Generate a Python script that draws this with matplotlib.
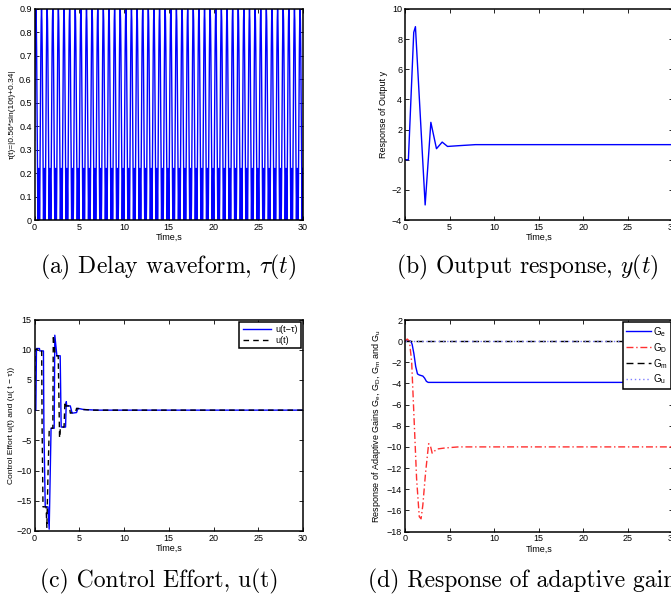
import numpy as np
import matplotlib
matplotlib.use("Agg")
import matplotlib.pyplot as plt

plt.rcParams['font.family'] = ['Liberation Sans', 'DejaVu Sans']
plt.rcParams['mathtext.fontset'] = 'custom'
plt.rcParams['mathtext.rm'] = 'Liberation Sans'
plt.rcParams['mathtext.it'] = 'Liberation Sans:italic'
plt.rcParams['xtick.direction'] = 'in'
plt.rcParams['ytick.direction'] = 'in'

# ---------------- data ----------------
# (a) delay waveform: one cycle (offset from peak [s], value)
tau_cycle_offsets = [0.0, 0.04, 0.08, 0.12, 0.16, 0.20, 0.222, 0.25, 0.28, 0.314,
                     0.35, 0.38, 0.406, 0.43, 0.47, 0.51, 0.55, 0.59]
tau_cycle_values = [0.90, 0.85, 0.72, 0.52, 0.30, 0.07, 0.0, 0.11, 0.19, 0.22,
                    0.19, 0.11, 0.0, 0.07, 0.30, 0.52, 0.72, 0.85]
tau_start_t = [0.0, 0.08]
tau_start_v = [0.34, 0.74]
tau_period = 0.628
tau_first_peak = 0.157
tau_n_cycles = 48

# (b) output response
y_t = [0, 0.38, 0.98, 1.17, 2.26, 2.90, 3.53, 4.17, 4.77, 6.0, 7.9, 30]
y_v = [0, 0.0, 8.45, 8.83, -3.0, 2.48, 0.73, 1.17, 0.88, 0.93, 1.0, 1.0]

# (c) control effort
ud_t = [0, 0.15, 0.22, 0.55, 0.60, 1.00, 1.05, 1.20, 1.50, 1.64, 1.75, 1.85, 2.20,
        2.27, 2.50, 2.87, 2.98, 3.47, 3.55, 3.60, 4.00, 4.20, 4.70, 4.85, 5.5, 7.0, 30]
ud_v = [0, 0, 10.2, 10.2, 9.8, 9.8, -3.0, -16.0, -16.0, -19.7, -11.0, -3.0, -3.0,
        12.4, 9.0, 9.0, -2.8, -2.8, 1.4, 0.7, 0.7, -0.5, -0.4, 0.3, 0.1, 0.0, 0.0]
u_t = [0, 0.05, 0.30, 0.80, 0.85, 0.95, 1.30, 1.38, 1.50, 1.65, 2.05, 2.10, 2.30,
       2.65, 2.80, 2.90, 3.30, 3.40, 3.50, 3.90, 4.00, 4.60, 4.70, 5.5, 6.5, 30]
u_v = [0, 10.0, 10.1, 10.0, -3.0, -16.0, -16.0, -19.5, -11.0, -3.0, -3.0, 12.4, 9.0,
       9.0, -4.6, -2.8, -2.8, 1.4, 0.7, 0.7, -0.5, -0.3, 0.3, 0.1, 0.0, 0.0]

# (d) adaptive gains
ge_t = [0, 0.65, 0.8, 1.0, 1.2, 1.4, 1.6, 2.0, 2.2, 2.4, 2.6, 30]
ge_v = [0, 0, -0.3, -1.2, -2.4, -3.1, -3.2, -3.3, -3.5, -3.8, -3.9, -3.9]
gd_t = [0, 0.25, 0.5, 0.75, 1.0, 1.3, 1.6, 1.8, 2.0, 2.3, 2.65, 2.85, 3.05, 3.3,
        3.6, 4.5, 6.0, 30]
gd_v = [0, 0.2, 0.0, -2.0, -7.0, -13.0, -16.6, -16.8, -15.5, -12.5, -9.7, -9.9,
        -10.6, -10.4, -10.2, -10.1, -10.0, -10.0]
gm_t = [0, 30]
gm_v = [0, 0]
gu_t = [0, 30]
gu_v = [0, 0]

# ---------------- figure ----------------
W, H = 671, 598
fig = plt.figure(figsize=(W / 100, H / 100), dpi=100)

def px_axes(l, t, r, b):
    return fig.add_axes([l / W, 1 - b / H, (r - l) / W, (b - t) / H])

FS = 6.5

def style(ax, xlim, ylim, yticks):
    ax.set_xlim(*xlim)
    ax.set_ylim(*ylim)
    ax.set_xticks(np.arange(0, 31, 5))
    ax.set_yticks(yticks)
    ax.tick_params(top=True, right=True, labelsize=FS, length=3, width=0.6, pad=2)
    for s in ax.spines.values():
        s.set_linewidth(1.1)
    ax.set_xlabel('Time,s', fontsize=FS, labelpad=1)

# (a)
ax_a = px_axes(34.5, 9, 303, 220)
tt = list(tau_start_t)
tv = list(tau_start_v)
for k in range(tau_n_cycles):
    base = tau_first_peak + k * tau_period
    for off, val in zip(tau_cycle_offsets, tau_cycle_values):
        if base + off <= 30:
            tt.append(base + off)
            tv.append(val)
ax_a.plot(tt, tv, color='#0000ff', lw=1.0)
style(ax_a, (0, 30), (0, 0.9), np.round(np.arange(0, 0.91, 0.1), 1))
ax_a.set_yticklabels(['0'] + ['%.1f' % v for v in np.arange(0.1, 0.91, 0.1)])
ax_a.set_ylabel('τ(t)=|0.56*sin(10t)+0.34|', fontsize=FS - 0.5, labelpad=2)

# (b)
ax_b = px_axes(405, 9, 672.5, 220)
ax_b.plot(y_t, y_v, color='#0000ff', lw=1.0)
style(ax_b, (0, 30), (-4, 10), np.arange(-4, 11, 2))
ax_b.set_ylabel('Response of Output y', fontsize=FS, labelpad=3)

# (c)
ax_c = px_axes(34.5, 319.5, 303, 531)
ax_c.plot(ud_t, ud_v, color='#0000ff', lw=1.0, label='u(t−τ)')
ax_c.plot(u_t, u_v, color='black', lw=1.0, ls=(0, (4, 3)), label='u(t)')
style(ax_c, (0, 30), (-20, 15), np.arange(-20, 16, 5))
ax_c.set_ylabel('Control Effort u(t) and (u( t − τ))', fontsize=FS - 0.5, labelpad=1)
leg = ax_c.legend(loc='upper right', fontsize=FS, fancybox=False, framealpha=1,
                  edgecolor='black', borderaxespad=0.25, handlelength=3.2,
                  labelspacing=0.2, borderpad=0.35, handletextpad=0.4)
leg.get_frame().set_linewidth(1.1)

# (d)
ax_d = px_axes(405, 320, 672.5, 531.5)
ax_d.plot(ge_t, ge_v, color='#0000ff', lw=1.0, label=r'G$_\mathrm{e}$')
ax_d.plot(gd_t, gd_v, color='#ff3030', lw=1.0, ls=(0, (5, 2, 1, 2)), label=r'G$_\mathrm{D}$')
ax_d.plot(gm_t, gm_v, color='black', lw=1.0, ls=(0, (5, 3)), label=r'G$_\mathrm{m}$')
ax_d.plot(gu_t, gu_v, color='#8080ff', lw=1.0, ls=(0, (1, 2)), label=r'G$_\mathrm{u}$')
style(ax_d, (0, 30), (-18, 2), np.arange(-18, 3, 2))
ax_d.set_ylabel(r'Response of Adaptive Gains G$_\mathrm{e}$, G$_\mathrm{D}$, G$_\mathrm{m}$ and G$_\mathrm{u}$',
                fontsize=FS, labelpad=3)
leg2 = ax_d.legend(loc='upper right', fontsize=7, fancybox=False, framealpha=1,
                   edgecolor='black', borderaxespad=0.2, handlelength=2.6,
                   labelspacing=0.22, borderpad=0.3, handletextpad=0.2)
leg2.get_frame().set_linewidth(1.1)

# captions
cap = dict(fontsize=17, family='cmr10', math_fontfamily='cm', va='baseline', ha='left')
fig.text(40 / W, 1 - 273 / H, r'(a) Delay waveform, $\tau(t)$', **cap)
fig.text(396 / W, 1 - 273 / H, r'(b) Output response, $y(t)$', **cap)
fig.text(40 / W, 1 - 587 / H, r'(c) Control Effort, u(t)', **cap)
fig.text(368 / W, 1 - 587 / H, r'(d) Response of adaptive gains', **cap)

fig.savefig('out.png', dpi=100)
